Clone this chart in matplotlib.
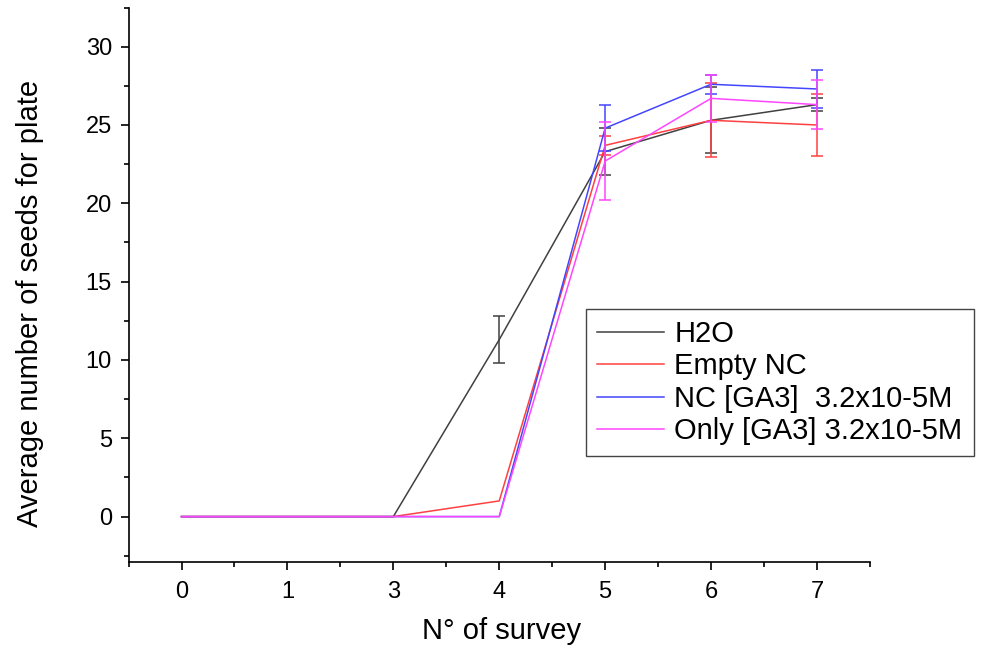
import numpy as np
import matplotlib.pyplot as plt
from matplotlib.ticker import MultipleLocator

plt.rcParams['font.family'] = ['Liberation Sans', 'DejaVu Sans']

# surveys (note: label "2" is missing in the original)
survey_labels = ['0', '1', '3', '4', '5', '6', '7']

h2o = [0, 0, 0, 11.3, 23.3, 25.3, 26.3]
h2o_err = [0, 0, 0, 1.5, 1.5, 2.1, 0.4]

empty_nc = [0, 0, 0, 1.0, 23.7, 25.3, 25.0]
empty_nc_err = [0, 0, 0, 0, 0.6, 2.35, 2.0]

nc_ga3 = [0, 0, 0, 0, 24.8, 27.6, 27.3]
nc_ga3_err = [0, 0, 0, 0, 1.45, 0.6, 1.2]

only_ga3 = [0, 0, 0, 0, 22.7, 26.7, 26.3]
only_ga3_err = [0, 0, 0, 0, 2.5, 1.5, 1.55]

series_names = ['H2O', 'Empty NC', 'NC [GA3]  3.2x10-5M', 'Only [GA3] 3.2x10-5M']
colors = ['#404040', '#ff4040', '#4545ff', '#ff45ff']

fig = plt.figure(figsize=(9.85, 6.48), dpi=100)
ax = fig.add_axes([0.1305, 0.1327, 0.7527, 0.8557])

x = np.arange(len(survey_labels))
all_vals = [h2o, empty_nc, nc_ga3, only_ga3]
all_errs = [h2o_err, empty_nc_err, nc_ga3_err, only_ga3_err]

for vals, errs, name, c in zip(all_vals, all_errs, series_names, colors):
    vals = np.array(vals)
    errs = np.array(errs)
    ax.plot(x, vals, color=c, lw=1.1, label=name)
    m = errs > 0
    ax.errorbar(x[m], vals[m], yerr=errs[m], fmt='none', ecolor=c,
                elinewidth=1.1, capsize=4.5, capthick=1.1)

ax.set_xlim(-0.5, 6.5)
ax.set_ylim(-2.9, 32.5)
ax.set_xticks(x)
ax.set_xticklabels(survey_labels)
ax.xaxis.set_minor_locator(MultipleLocator(0.5))
ax.yaxis.set_major_locator(MultipleLocator(5))
ax.yaxis.set_minor_locator(MultipleLocator(2.5))

for s in ['top', 'right']:
    ax.spines[s].set_visible(False)
for s in ['left', 'bottom']:
    ax.spines[s].set_linewidth(1.2)

ax.tick_params(which='major', direction='out', length=6, width=1.2, labelsize=17)
ax.tick_params(which='minor', direction='out', length=3.5, width=1.2)
ax.tick_params(axis='y', which='major', pad=6)
ax.tick_params(axis='x', which='major', pad=8)

ax.set_xlabel('N° of survey', fontsize=21, va='center')
ax.xaxis.set_label_coords(0.503, -0.124)
ax.set_ylabel('Average number of seeds for plate', fontsize=21, va='center', ha='center')
ax.yaxis.set_label_coords(-0.133, 0.467)

leg = ax.legend(loc='upper left', bbox_to_anchor=(586 / 985, 1 - 309 / 648),
                bbox_transform=fig.transFigure, fontsize=21, frameon=True,
                fancybox=False, framealpha=1, edgecolor='#444444',
                handlelength=2.3, handletextpad=0.35, labelspacing=0.15,
                borderpad=0.38, borderaxespad=0)
leg.get_frame().set_linewidth(1.0)

fig.savefig('out.png', dpi=100)
